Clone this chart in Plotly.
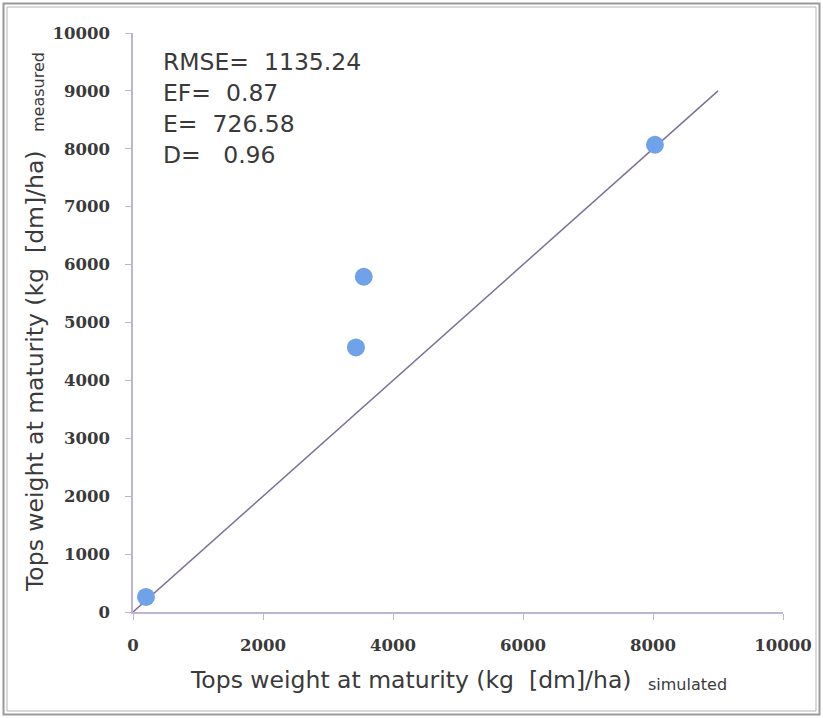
import plotly.graph_objects as go

# Data
simulated = [200, 3430, 3550, 8030]
measured = [260, 4570, 5790, 8070]
line_x = [0, 9000]
line_y = [0, 9000]
x_tick_vals = [0, 2000, 4000, 6000, 8000, 10000]
x_tick_text = ["0", "2000", "4000", "6000", "8000", "10000"]
y_tick_vals = [0, 1000, 2000, 3000, 4000, 5000, 6000, 7000, 8000, 9000, 10000]
y_tick_text = ["0", "1000", "2000", "3000", "4000", "5000", "6000", "7000", "8000", "9000", "10000"]
stats = ["RMSE=\u00a0 1135.24", "EF=\u00a0 0.87", "E=\u00a0 726.58", "D=\u00a0 \u00a00.96"]

W, H = 823, 718
L, R, T, B = 133, 40, 33, 106
PW, PH = W - L - R, H - T - B

def px(x):
    return (x - L) / PW

def py(y):
    return (H - B - y) / PH

axis_col = "#bdb5d3"
tick_font = dict(family="DejaVu Serif", size=16.5, color="#3a3a3a", weight="bold")
title_font = dict(family="DejaVu Sans", size=23.5, color="#3a3a3a")

fig = go.Figure()
fig.add_trace(go.Scatter(x=line_x, y=line_y, mode="lines",
                         line=dict(color="#7d7099", width=1.5), hoverinfo="skip",
                         showlegend=False, cliponaxis=False))
fig.add_trace(go.Scatter(x=simulated, y=measured, mode="markers",
                         marker=dict(size=18, color="#6fa2e8", line=dict(width=0)),
                         showlegend=False, cliponaxis=False))

annotations = []
for i, s in enumerate(stats):
    annotations.append(dict(text=s, xref="paper", yref="paper", x=px(161), y=py(62 + 31 * i),
                            xanchor="left", yanchor="middle", showarrow=False,
                            font=dict(family="DejaVu Sans", size=23.5, color="#3a3a3a")))
annotations += [
    dict(text="Tops weight at maturity (kg\u00a0 [dm]/ha)", xref="paper", yref="paper",
         x=px(188), y=py(680), xanchor="left", yanchor="middle", showarrow=False, font=title_font),
    dict(text="simulated", xref="paper", yref="paper", x=px(646), y=py(684),
         xanchor="left", yanchor="middle", showarrow=False,
         font=dict(family="DejaVu Sans", size=16, color="#3a3a3a")),
    dict(text="Tops weight at maturity (kg\u00a0 [dm]/ha)", xref="paper", yref="paper",
         x=px(35), y=py(371), xanchor="center", yanchor="middle", textangle=-90,
         showarrow=False, font=title_font),
    dict(text="measured", xref="paper", yref="paper", x=px(39), y=py(92),
         xanchor="center", yanchor="middle", textangle=-90, showarrow=False,
         font=dict(family="DejaVu Sans", size=16, color="#3a3a3a")),
]

shapes = [
    dict(type="rect", xref="paper", yref="paper", x0=px(3.5), x1=px(819.5), y0=py(714.5), y1=py(3.5),
         line=dict(color="#9a9a9a", width=2)),
    dict(type="rect", xref="paper", yref="paper", x0=px(7), x1=px(816), y0=py(711), y1=py(7),
         line=dict(color="#b5b5b5", width=1)),
]

fig.update_layout(
    width=W, height=H, margin=dict(l=L, r=R, t=T, b=B),
    paper_bgcolor="white", plot_bgcolor="white",
    annotations=annotations, shapes=shapes,
    xaxis=dict(range=[0, 10000], tickvals=x_tick_vals, ticktext=x_tick_text, showgrid=False,
               zeroline=False, showline=True, linecolor=axis_col, linewidth=1.5, ticks="outside",
               ticklen=6, tickcolor=axis_col, tickfont=tick_font, ticklabelstandoff=11),
    yaxis=dict(range=[0, 10000], tickvals=y_tick_vals, ticktext=y_tick_text, showgrid=False,
               zeroline=False, showline=True, linecolor=axis_col, linewidth=1.5, ticks="outside",
               ticklen=6, tickcolor=axis_col, tickfont=tick_font, ticklabelstandoff=12),
)

fig.write_html("out.html")
